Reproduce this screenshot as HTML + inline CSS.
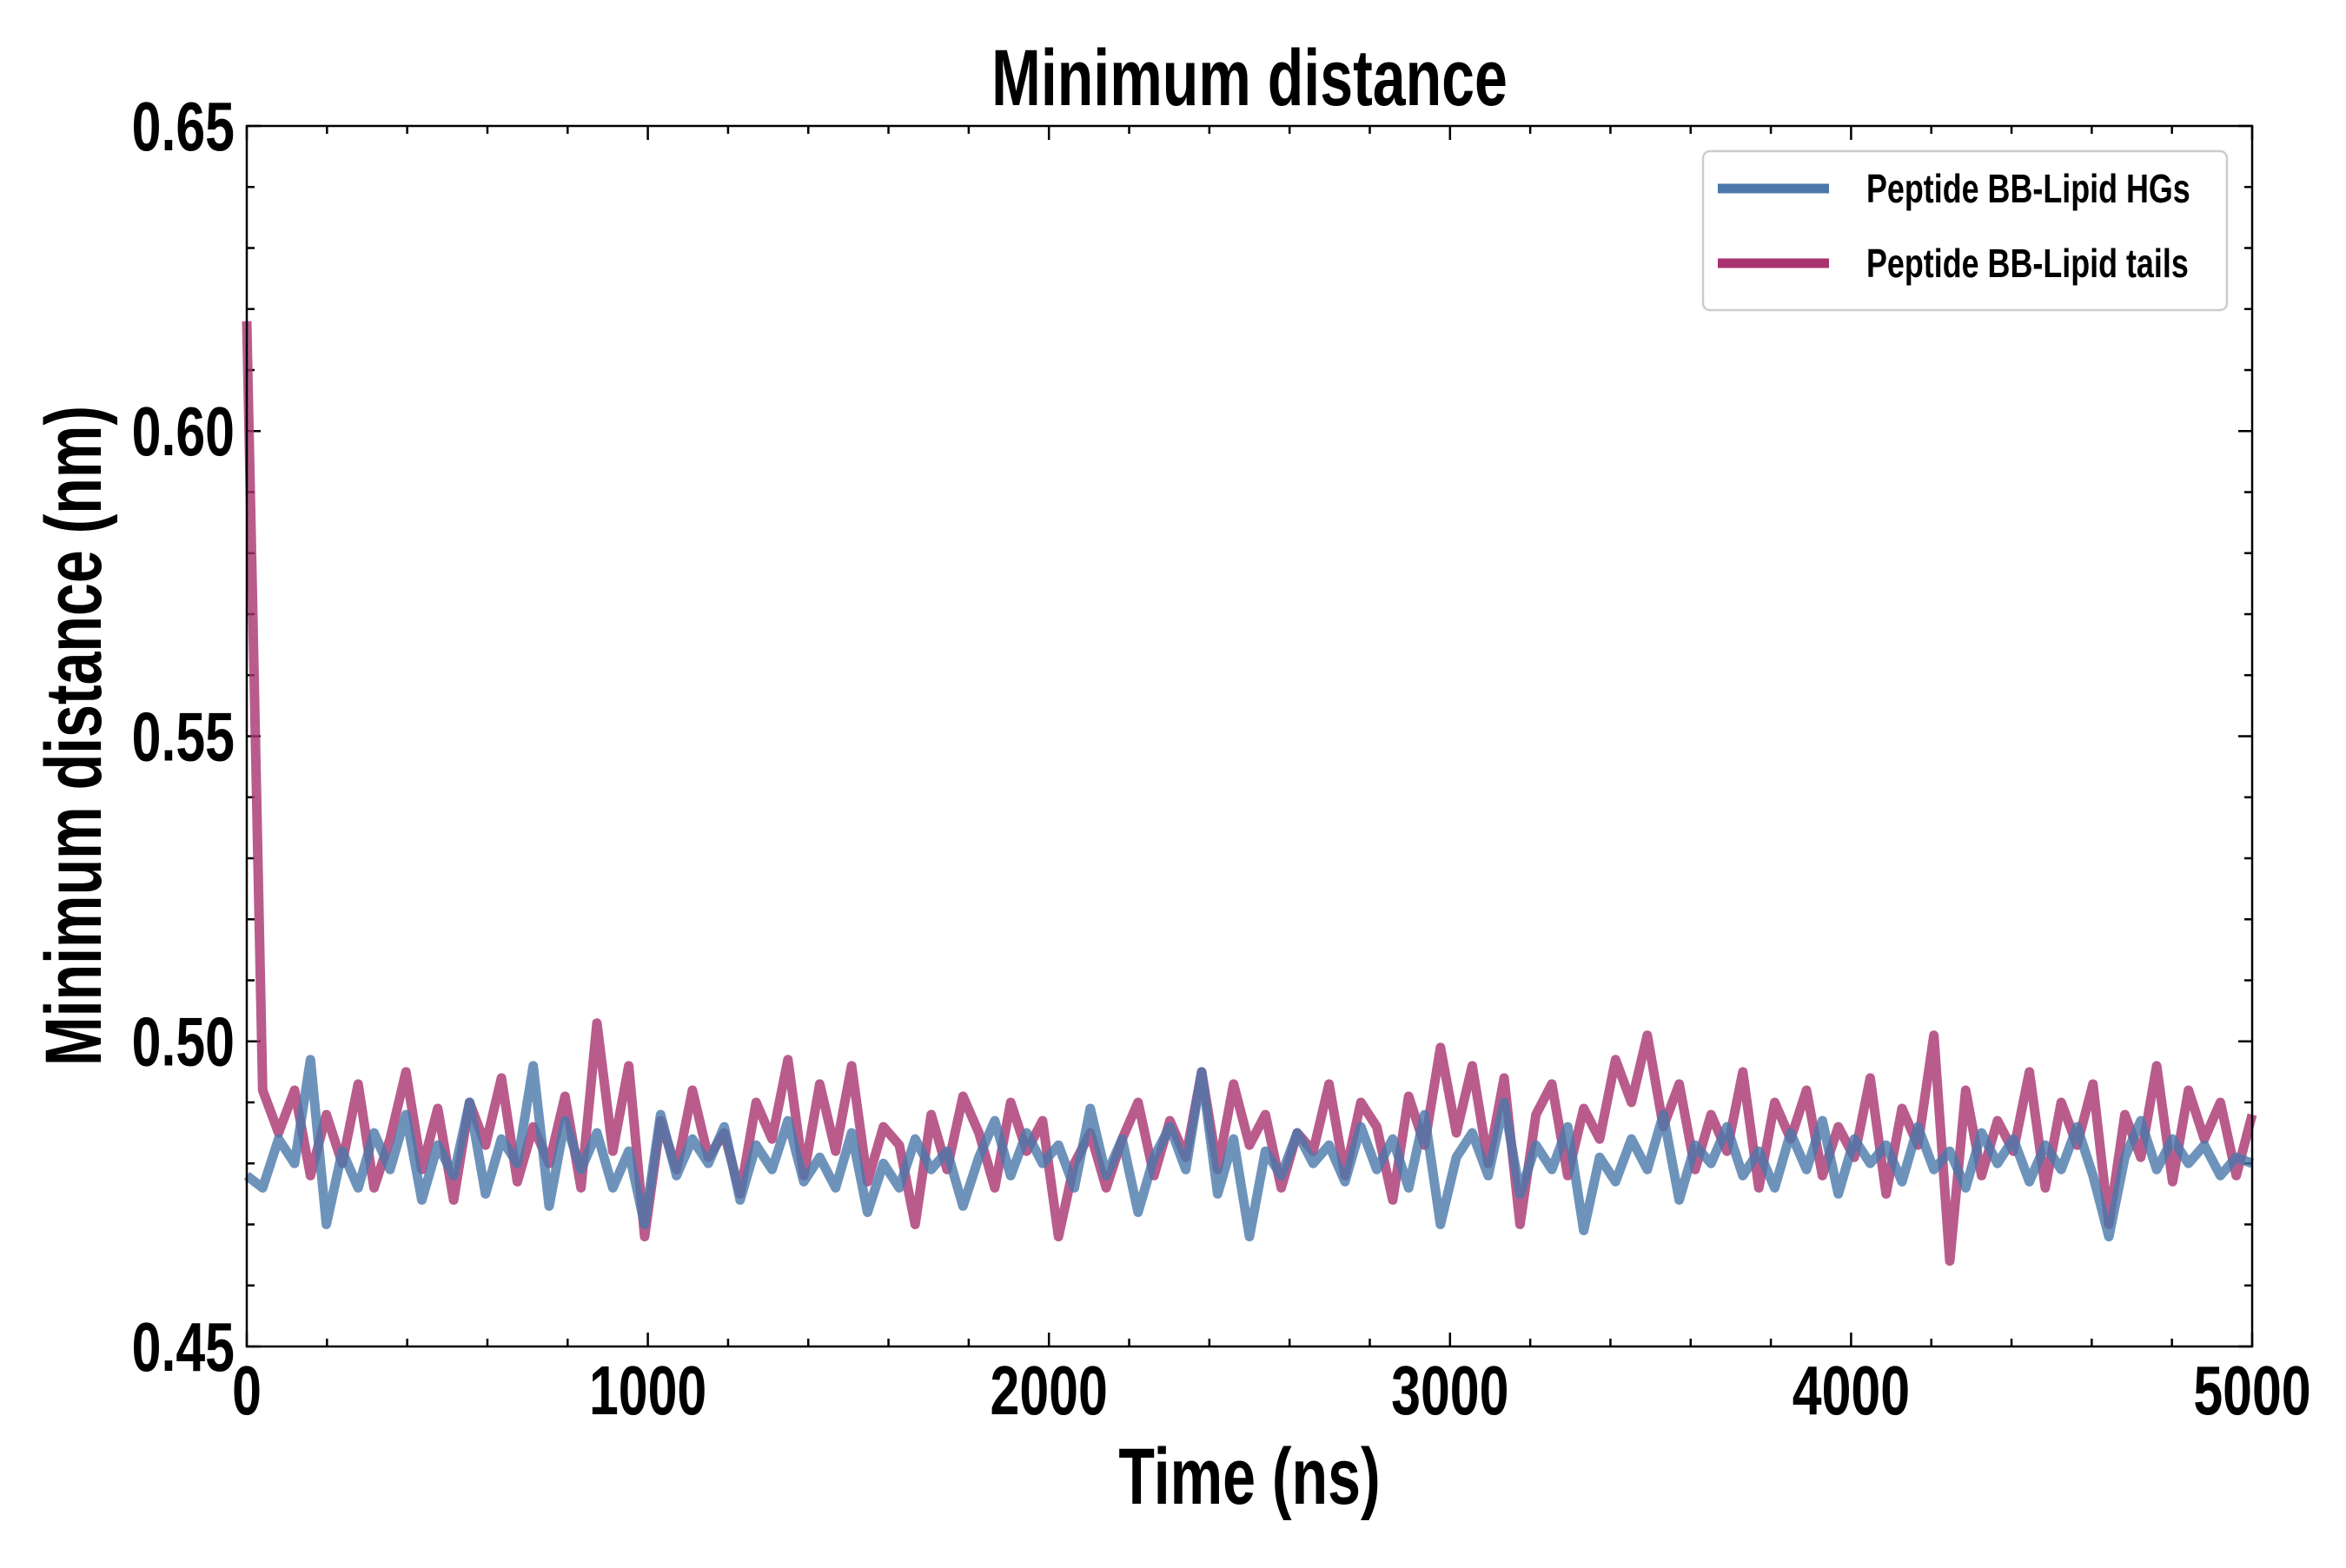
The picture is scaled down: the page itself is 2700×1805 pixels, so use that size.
<!DOCTYPE html>
<html><head><meta charset="utf-8"><style>
body{margin:0;background:#fff}
svg text{font-family:"Liberation Sans Narrow","Liberation Sans",sans-serif;font-weight:bold;fill:#000}
</style></head><body>
<svg id="chart" width="2700" height="1800" xmlns="http://www.w3.org/2000/svg">
<rect width="2700" height="1800" fill="#fff"/>
<text x="1438" y="121" font-size="92" text-anchor="middle" transform="translate(1438 0) scale(0.74 1) translate(-1438 0)">Minimum distance</text>
<text x="1438" y="1731" font-size="92" text-anchor="middle" transform="translate(1438 0) scale(0.74 1) translate(-1438 0)">Time (ns)</text>
<text x="0" y="0" font-size="92" text-anchor="middle" transform="translate(116 847) rotate(-90) scale(0.74 1)">Minimum distance (nm)</text>
<g id="ticks"></g>
<g id="series"></g>
<rect x="284" y="145" width="2308" height="1405" fill="none" stroke="#000" stroke-width="2.5"/>
<g>
<rect x="1960" y="174" width="603" height="183" rx="8" fill="#fff" fill-opacity="0.8" stroke="#ccc" stroke-width="2.5"/>
<line x1="1977" y1="217" x2="2105" y2="217" stroke="#4a78aa" stroke-width="11"/>
<text x="2148" y="233" font-size="46" transform="translate(2148 0) scale(0.78 1) translate(-2148 0)">Peptide BB-Lipid HGs</text>
<line x1="1977" y1="303" x2="2105" y2="303" stroke="#a8336f" stroke-width="11"/>
<text x="2148" y="319" font-size="46" transform="translate(2148 0) scale(0.78 1) translate(-2148 0)">Peptide BB-Lipid tails</text>
</g>
</svg>
<script>
const xTicks=[0,1000,2000,3000,4000,5000];
const yTicks=[0.45,0.50,0.55,0.60,0.65];
const yTickLabels=["0.45","0.50","0.55","0.60","0.65"];
const tailsValues=[0.618,0.492,0.485,0.492,0.478,0.488,0.480,0.493,0.476,0.484,0.495,0.479,0.489,0.474,0.490,0.483,0.494,0.477,0.486,0.480,0.491,0.476,0.503,0.482,0.496,0.468,0.487,0.479,0.492,0.481,0.485,0.475,0.490,0.484,0.497,0.478,0.493,0.482,0.496,0.477,0.486,0.483,0.470,0.488,0.479,0.491,0.485,0.476,0.490,0.482,0.487,0.468,0.480,0.485,0.476,0.484,0.490,0.478,0.487,0.481,0.495,0.479,0.493,0.483,0.488,0.476,0.485,0.482,0.493,0.478,0.490,0.486,0.474,0.491,0.483,0.499,0.485,0.496,0.480,0.494,0.470,0.488,0.493,0.478,0.489,0.484,0.497,0.490,0.501,0.486,0.493,0.479,0.488,0.482,0.495,0.476,0.490,0.484,0.492,0.478,0.486,0.481,0.494,0.475,0.489,0.483,0.501,0.464,0.492,0.478,0.487,0.482,0.495,0.476,0.490,0.483,0.493,0.470,0.488,0.481,0.496,0.477,0.492,0.484,0.490,0.478,0.488];
const hgsValues=[0.478,0.476,0.484,0.480,0.497,0.470,0.482,0.476,0.485,0.479,0.488,0.474,0.483,0.478,0.490,0.475,0.484,0.480,0.496,0.473,0.487,0.479,0.485,0.476,0.482,0.470,0.488,0.478,0.484,0.480,0.486,0.474,0.483,0.479,0.487,0.477,0.481,0.476,0.485,0.472,0.480,0.476,0.484,0.479,0.482,0.473,0.481,0.487,0.478,0.485,0.480,0.483,0.476,0.489,0.478,0.484,0.472,0.481,0.486,0.479,0.495,0.475,0.484,0.468,0.482,0.478,0.485,0.480,0.483,0.477,0.486,0.479,0.484,0.476,0.488,0.470,0.481,0.485,0.478,0.490,0.475,0.483,0.479,0.486,0.469,0.481,0.477,0.484,0.479,0.488,0.474,0.483,0.480,0.486,0.478,0.482,0.476,0.485,0.479,0.487,0.475,0.484,0.480,0.483,0.477,0.486,0.479,0.482,0.476,0.485,0.480,0.484,0.477,0.483,0.479,0.486,0.478,0.468,0.481,0.487,0.479,0.484,0.480,0.483,0.478,0.481,0.480];
const X0=284,X1=2592,Y0=1550,Y1=145;
const xs=v=>X0+(v-0)/5000*(X1-X0);
const ys=v=>Y0-(v-0.45)/0.2*(Y0-Y1);
const NS="http://www.w3.org/2000/svg";
const tg=document.getElementById('ticks');
function ln(x1,y1,x2,y2){const l=document.createElementNS(NS,'line');l.setAttribute('x1',x1);l.setAttribute('y1',y1);l.setAttribute('x2',x2);l.setAttribute('y2',y2);l.setAttribute('stroke','#000');l.setAttribute('stroke-width','2.5');


tg.appendChild(l);}
for(let t=0;t<=5000;t+=200){const x=xs(t),L=(t%1000===0)?16:9;ln(x,Y0,x,Y0-L);ln(x,Y1,x,Y1+L);}
for(let i=0;i<=20;i++){const v=0.45+i*0.01,y=ys(v),L=(i%5===0)?16:9;ln(X0,y,X0+L,y);ln(X1,y,X1-L,y);}
xTicks.forEach(t=>{const e=document.createElementNS(NS,'text');e.setAttribute('x',xs(t));e.setAttribute('y',1628);e.setAttribute('font-size','80');e.setAttribute('text-anchor','middle');e.setAttribute('transform',`translate(${xs(t)} 0) scale(0.76 1) translate(${-xs(t)} 0)`);e.textContent=t;


tg.appendChild(e);});
yTicks.forEach((v,i)=>{const e=document.createElementNS(NS,'text');e.setAttribute('x',270);e.setAttribute('y',ys(v)+28);e.setAttribute('font-size','80');e.setAttribute('text-anchor','end');e.setAttribute('transform','translate(270 0) scale(0.76 1) translate(-270 0)');e.textContent=yTickLabels[i];


tg.appendChild(e);});
const sg=document.getElementById('series');
function draw(vals,color,name){const step=5000/(vals.length-1);const d=vals.map((v,i)=>(i?'L':'M')+xs(i*step).toFixed(1)+' '+ys(v).toFixed(1)).join(' ');const p=document.createElementNS(NS,'path');p.setAttribute('d',d);p.setAttribute('fill','none');p.setAttribute('stroke',color);p.setAttribute('stroke-width','11');p.setAttribute('stroke-opacity','0.8');p.setAttribute('stroke-linejoin','round');


sg.appendChild(p);}
draw(tailsValues,'#a8336f','line-lipid-tails');
draw(hgsValues,'#4a78aa','line-lipid-hgs');
</script>
</body></html>
